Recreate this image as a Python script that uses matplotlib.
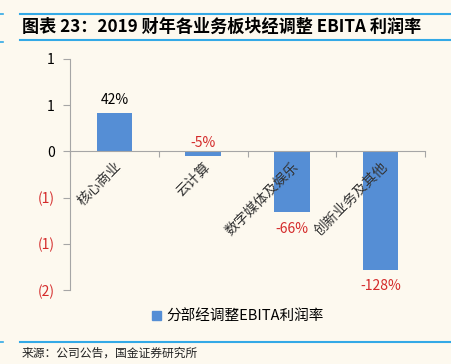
import matplotlib.pyplot as plt
from matplotlib.patches import Patch
from matplotlib.lines import Line2D

plt.rcParams['font.family'] = ['Noto Sans CJK SC', 'DejaVu Sans']

# data
categories = ['核心商业', '云计算', '数字媒体及娱乐', '创新业务及其他']
margins = [0.42, -0.05, -0.66, -1.28]
value_labels = ['42%', '-5%', '-66%', '-128%']
yticks = [1.0, 0.5, 0.0, -0.5, -1.0, -1.5]
ytick_labels = ['1', '1', '0', '(1)', '(1)', '(2)']
series_name = '分部经调整EBITA利润率'
title = '图表 23：2019 财年各业务板块经调整 EBITA 利润率'
source = '来源：公司公告，国金证券研究所'

bg = '#FDF9EF'
bar_color = '#558ED5'
red = '#D42A2A'
line_blue = '#33A9E6'
axis_gray = '#A6A6A6'

W, H = 451, 364
fig = plt.figure(figsize=(W / 100, H / 100), dpi=100, facecolor=bg)

def fx(px):
    return px / W

def fy(py):
    return 1 - py / H

# header / footer decorations
for y in (14, 40, 342):
    fig.add_artist(Line2D([fx(20), fx(451)], [fy(y), fy(y)], color=line_blue, lw=1.5))
for y in (14, 42, 342):
    fig.add_artist(Line2D([0, fx(3)], [fy(y), fy(y)], color=line_blue, lw=1.2))
fig.text(fx(22), fy(27), title, fontsize=12.3, fontweight='bold', va='center', ha='left')
fig.text(fx(22), fy(353), source, fontsize=8.5, va='center', ha='left', color='#222222')

ax = fig.add_axes([fx(70), fy(290), fx(425) - fx(70), fy(59) - fy(290)])
ax.set_facecolor(bg)

x = list(range(len(categories)))
ax.bar(x, margins, width=0.4, color=bar_color, zorder=3)

for xi, v, lab in zip(x, margins, value_labels):
    col = 'black' if v > 0 else red
    if v > -0.1:
        ax.annotate(lab, (xi, v), xytext=(0, 4), textcoords='offset points',
                    ha='center', va='bottom', fontsize=10, color=col)
    else:
        ax.annotate(lab, (xi, v), xytext=(0, -7), textcoords='offset points',
                    ha='center', va='top', fontsize=10, color=col)

ax.set_xlim(-0.5, len(categories) - 0.5)
ax.set_ylim(-1.5, 1.0)
ax.set_yticks(yticks)
ax.set_yticklabels(ytick_labels, fontsize=10)
for t, v in zip(ax.get_yticklabels(), yticks):
    t.set_color(red if v < 0 else 'black')
ax.tick_params(axis='y', length=5, color=axis_gray, pad=6)

ax.set_xticks([i - 0.5 for i in range(len(categories) + 1)])
ax.set_xticklabels([])
ax.tick_params(axis='x', length=4, color=axis_gray, direction='out')

for s in ('top', 'right'):
    ax.spines[s].set_visible(False)
ax.spines['bottom'].set_position(('data', 0))
ax.spines['bottom'].set_color(axis_gray)
ax.spines['left'].set_color(axis_gray)
ax.spines['bottom'].set_zorder(4)

for xi, c in zip(x, categories):
    ax.annotate(c, (xi, 0), xytext=(0, -6), textcoords='offset points',
                rotation=45, rotation_mode='anchor', ha='right', va='top',
                fontsize=10, color='#333333')

fig.legend(handles=[Patch(color=bar_color, label=series_name)], loc='center',
           bbox_to_anchor=(fx(238), fy(317)), frameon=False, fontsize=10.5,
           handlelength=0.6, handleheight=0.6, handletextpad=0.4)

fig.savefig('out.png', dpi=100, facecolor=bg)
